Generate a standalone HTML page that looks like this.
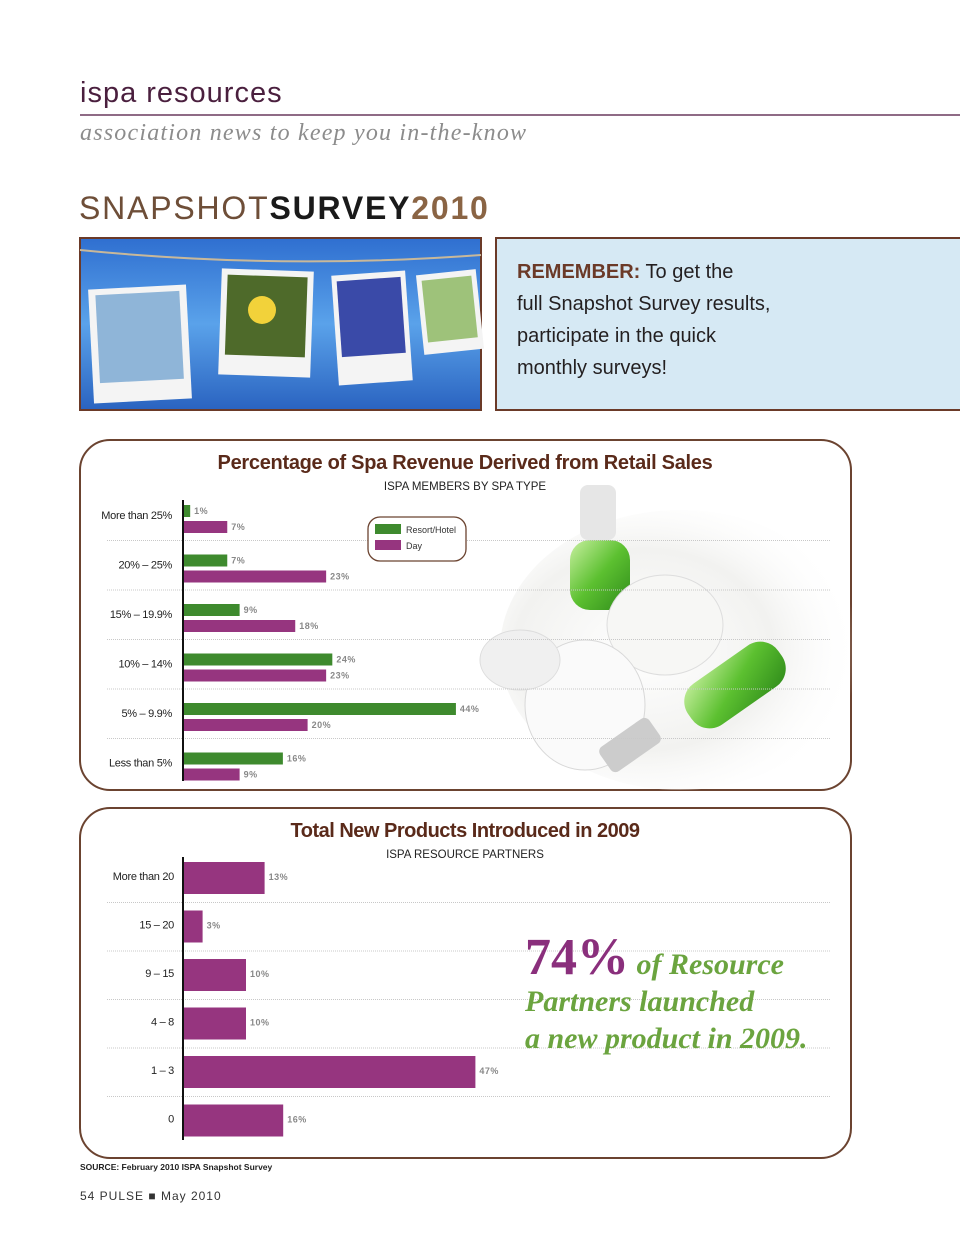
<!DOCTYPE html>
<html><head><meta charset="utf-8"><style>
html,body{margin:0;padding:0;background:#fff;}
svg{display:block;}
</style></head><body>
<svg id="page" width="960" height="1247" viewBox="0 0 960 1247" xmlns="http://www.w3.org/2000/svg" font-family="Liberation Sans, sans-serif">
<defs>
<linearGradient id="sky" x1="0" y1="0" x2="0" y2="1"><stop offset="0" stop-color="#2f6fd0"/><stop offset="0.5" stop-color="#5aa2ea"/><stop offset="1" stop-color="#2a63c0"/></linearGradient>
<radialGradient id="glow" cx="0.4" cy="0.5" r="0.6"><stop offset="0" stop-color="#ffffff"/><stop offset="0.6" stop-color="#f2f2f0"/><stop offset="1" stop-color="#ffffff" stop-opacity="0"/></radialGradient>
<linearGradient id="greenb" x1="0" y1="0" x2="1" y2="1"><stop offset="0" stop-color="#c8f0a0"/><stop offset="0.5" stop-color="#5cc030"/><stop offset="1" stop-color="#2e8a1a"/></linearGradient>
</defs>

<text x="80" y="102" font-size="29" fill="#4a1f3e" letter-spacing="1">ispa resources</text>
<line x1="80" y1="115" x2="960" y2="115" stroke="#6a3a5e" stroke-width="1.5"/>
<text x="80" y="140" font-size="24" fill="#8c8c8c" font-style="italic" letter-spacing="1.2" font-family="Liberation Serif, serif">association news to keep you in-the-know</text>
<text x="79" y="219" font-size="32" letter-spacing="1.8"><tspan fill="#6e4e38">SNAPSHOT</tspan><tspan fill="#1a1a1a" font-weight="bold">SURVEY</tspan><tspan fill="#8a6444" font-weight="bold">2010</tspan></text>

<g>
<rect x="80" y="238" width="401" height="172" fill="url(#sky)" stroke="#6b3a28" stroke-width="2"/>
<path d="M80 250 Q280 270 481 255" stroke="#c8b89a" stroke-width="2" fill="none"/>
<rect x="91" y="287" width="98" height="114" fill="#f4f4f4" transform="rotate(-3 140 344)"/>
<rect x="98" y="293" width="84" height="88" fill="#8fb5d8" transform="rotate(-3 140 344)"/>
<rect x="220" y="270" width="92" height="106" fill="#f4f4f4" transform="rotate(2 266 323)"/>
<rect x="226" y="276" width="80" height="80" fill="#4e6a2a" transform="rotate(2 266 323)"/>
<circle cx="262" cy="310" r="14" fill="#f2d23a"/>
<rect x="335" y="273" width="74" height="110" fill="#f4f4f4" transform="rotate(-4 372 328)"/>
<rect x="340" y="279" width="64" height="76" fill="#3a4aa8" transform="rotate(-4 372 328)"/>
<rect x="420" y="272" width="60" height="80" fill="#f4f4f4" transform="rotate(-6 450 312)"/>
<rect x="425" y="278" width="50" height="62" fill="#9ec27a" transform="rotate(-6 450 312)"/>
</g>
<g>
<rect x="496" y="238" width="465" height="172" fill="#d6e9f4" stroke="#6b3a28" stroke-width="2"/>
<text font-size="20" fill="#231f20"><tspan x="517" y="278"><tspan font-weight="bold" fill="#6b3a28">REMEMBER:</tspan> To get the</tspan><tspan x="517" y="310">full Snapshot Survey results,</tspan><tspan x="517" y="342">participate in the quick</tspan><tspan x="517" y="374">monthly surveys!</tspan></text>
</g>

<!-- Chart 1 -->
<g>
<rect x="80" y="440" width="771" height="350" rx="30" fill="#fff" stroke="#6b4330" stroke-width="2"/>
<g>
<ellipse cx="680" cy="650" rx="180" ry="140" fill="url(#glow)"/>
<rect x="570" y="540" width="60" height="70" rx="20" fill="url(#greenb)"/>
<rect x="580" y="485" width="36" height="55" rx="8" fill="#e6e6e6"/>
<ellipse cx="665" cy="625" rx="58" ry="50" fill="#f7f7f5" stroke="#ddd"/>
<ellipse cx="585" cy="705" rx="60" ry="65" fill="#fafafa" stroke="#d8d8d8"/>
<ellipse cx="520" cy="660" rx="40" ry="30" fill="#f0f0f0" stroke="#ddd"/>
<rect x="680" y="660" width="110" height="50" rx="22" fill="url(#greenb)" transform="rotate(-35 735 685)"/>
<rect x="600" y="730" width="60" height="30" rx="6" fill="#ccc" transform="rotate(-35 630 745)"/>
</g>
<text x="465" y="469" font-size="20" font-weight="bold" fill="#5a2a1a" text-anchor="middle" letter-spacing="-0.3">Percentage of Spa Revenue Derived from Retail Sales</text>
<text x="465" y="490" font-size="11.5" fill="#222" text-anchor="middle">ISPA MEMBERS BY SPA TYPE</text>
<g id="c1grid"></g>
<g id="c1bars"></g>
<line x1="183" y1="500" x2="183" y2="781" stroke="#111" stroke-width="2"/>
<g>
<rect x="368" y="517" width="98" height="44" rx="12" fill="#fff" stroke="#6b4330" stroke-width="1.3"/>
<rect x="375" y="524" width="26" height="10" fill="#3e8a2e"/>
<text x="406" y="533" font-size="9" fill="#333">Resort/Hotel</text>
<rect x="375" y="540" width="26" height="10" fill="#96357f"/>
<text x="406" y="549" font-size="9" fill="#333">Day</text>
</g>
</g>

<!-- Chart 2 -->
<g>
<rect x="80" y="808" width="771" height="350" rx="30" fill="#fff" stroke="#6b4330" stroke-width="2"/>
<text x="465" y="837" font-size="20" font-weight="bold" fill="#5a2a1a" text-anchor="middle" letter-spacing="-0.5">Total New Products Introduced in 2009</text>
<text x="465" y="858" font-size="11.5" fill="#222" text-anchor="middle">ISPA RESOURCE PARTNERS</text>
<g id="c2grid"></g>
<g id="c2bars"></g>
<line x1="183" y1="857" x2="183" y2="1140" stroke="#111" stroke-width="2"/>
<g font-family="Liberation Serif, serif" font-style="italic">
<text x="525" y="974" font-size="30" fill="#6ba43f"><tspan font-size="52" fill="#8a2f7c" font-weight="bold" font-style="normal">74%</tspan> <tspan font-weight="bold">of Resource</tspan></text>
<text x="525" y="1011" font-size="30" fill="#6ba43f" font-weight="bold">Partners launched</text>
<text x="525" y="1048" font-size="30" fill="#6ba43f" font-weight="bold">a new product in 2009.</text>
</g>
</g>

<text x="80" y="1170" font-size="8.5" font-weight="bold" fill="#222">SOURCE: February 2010 ISPA Snapshot Survey</text>
<text x="80" y="1200" font-size="12" fill="#333" letter-spacing="1">54  PULSE  ■  May 2010</text>
</svg>
<script>
const c1Categories = ["More than 25%","20% – 25%","15% – 19.9%","10% – 14%","5% – 9.9%","Less than 5%"];
const c1Resort = [1,7,9,24,44,16];
const c1Day = [7,23,18,23,20,9];
const c2Categories = ["More than 20","15 – 20","9 – 15","4 – 8","1 – 3","0"];
const c2Values = [13,3,10,10,47,16];

const NS = "http://www.w3.org/2000/svg";
function mk(tag, attrs, parent, text){
  const e = document.createElementNS(NS, tag);
  for (const k in attrs) e.setAttribute(k, attrs[k]);
  if (text !== undefined) e.textContent = text;
  parent.appendChild(e);
  return e;
}
const x1 = v => 184 + v * 6.18;
const row1 = i => 502 + i * 49.5;
const g1 = document.getElementById('c1bars');
const gr1 = document.getElementById('c1grid');
c1Categories.forEach((c, i) => {
  const y = row1(i);
  const lab = mk('text', {x: 172, y: y + 17, 'font-size': 11, fill: '#222', 'text-anchor': 'end', 'letter-spacing': '-0.3'}, g1, c);
  
  
  if (i > 0) {
    const gl = mk('line', {x1: 107, x2: 830, y1: y - 11, y2: y - 11, stroke: '#c8c8c8', 'stroke-dasharray': '1 1'}, gr1);
    
    
  }
  const b1 = mk('rect', {x: 184, y: y + 3, width: x1(c1Resort[i]) - 184, height: 12, fill: '#3e8a2e'}, g1);
  
  
  const t1 = mk('text', {x: x1(c1Resort[i]) + 4, y: y + 12, 'font-size': 9, 'font-weight': 'bold', fill: '#888', 'letter-spacing': '0.5'}, g1, c1Resort[i] + '%');
  
  
  const b2 = mk('rect', {x: 184, y: y + 19, width: x1(c1Day[i]) - 184, height: 12, fill: '#96357f'}, g1);
  
  
  const t2 = mk('text', {x: x1(c1Day[i]) + 4, y: y + 28, 'font-size': 9, 'font-weight': 'bold', fill: '#888', 'letter-spacing': '0.5'}, g1, c1Day[i] + '%');
  
  
});
const x2 = v => 184 + v * 6.2;
const row2 = i => 862 + i * 48.5;
const g2 = document.getElementById('c2bars');
const gr2 = document.getElementById('c2grid');
c2Categories.forEach((c, i) => {
  const y = row2(i);
  const lab = mk('text', {x: 174, y: y + 18, 'font-size': 11, fill: '#222', 'text-anchor': 'end', 'letter-spacing': '-0.3'}, g2, c);
  
  
  if (i > 0) {
    const gl = mk('line', {x1: 107, x2: 830, y1: y - 8, y2: y - 8, stroke: '#c8c8c8', 'stroke-dasharray': '1 1'}, gr2);
    
    
  }
  const b = mk('rect', {x: 184, y: y, width: x2(c2Values[i]) - 184, height: 32, fill: '#96357f'}, g2);
  
  
  const t = mk('text', {x: x2(c2Values[i]) + 4, y: y + 18, 'font-size': 9, 'font-weight': 'bold', fill: '#888', 'letter-spacing': '0.5'}, g2, c2Values[i] + '%');
  
  
});
</script>
</body></html>
